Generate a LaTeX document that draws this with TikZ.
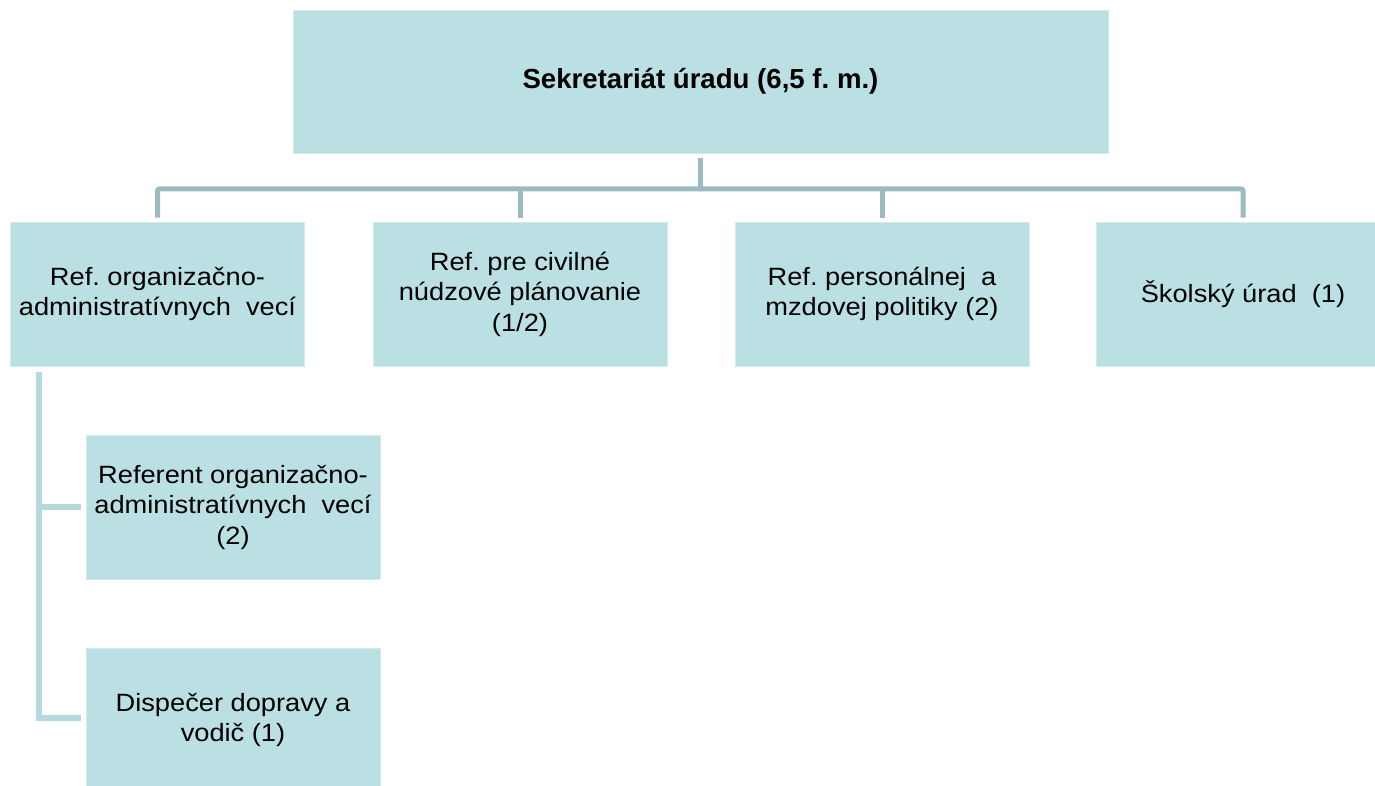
\documentclass[tikz,border=0pt]{standalone}
\usepackage{fontspec}
\setmainfont{Liberation Sans}
\newfontfamily\boxfont[FakeStretch=1.09]{Liberation Sans}
\usetikzlibrary{calc}
\definecolor{boxfill}{HTML}{BBE0E3}
\definecolor{boxedge}{HTML}{D2ECEE}
\definecolor{connA}{HTML}{9BBBBE}
\definecolor{connB}{HTML}{B5DADD}
\tikzset{
  orgbox/.style={fill=boxfill, draw=boxedge, line width=0.8pt, inner sep=0pt,
    minimum width=294pt, minimum height=144pt, align=center,
    font=\boxfont\fontsize{25}{30.5}\selectfont},
  topbox/.style={orgbox, minimum width=815pt, minimum height=143pt,
    font=\bfseries\fontsize{27.6}{32}\selectfont},
  connup/.style={draw=connA, line width=5pt},
  conndown/.style={draw=connB, line width=6pt}
}
\frenchspacing
\begin{document}
\begin{tikzpicture}[x=1pt,y=-1pt]
\useasboundingbox[fill=white] (0,0) rectangle (1375,786);
\begin{scope}
\clip (0,0) rectangle (1375,786);
\node[topbox] (top) at (700.5,81.5) {Sekretariát úradu (6,5 f. m.)};
\node[orgbox] (b1) at (157.5,294) {Ref. organizačno-\\administratívnych~~vecí};
\node[orgbox] (b2) at (520,294) {Ref. pre civilné\\núdzové plánovanie\\(1/2)};
\node[orgbox] (b3) at (882,294) {Ref. personálnej~~a\\mzdovej politiky (2)};
\node[orgbox] (b4) at (1243,294) {Školský úrad~~(1)};
\node[orgbox] (b5) at (233,507) {Referent organizačno-\\administratívnych~~vecí\\(2)};
\node[orgbox] (b6) at (233,720) {Dispečer dopravy a\\vodič (1)};
\coordinate (bus) at (700.5,189);
\coordinate (sp) at ($(b1.south west)+(29,6)$);
\draw[connup] ([yshift=-5pt]top.south) -- (bus);
\draw[connup, rounded corners=2pt] ([yshift=4pt]b1.north) -- (b1.north |- bus) -- (b4.north |- bus) -- ([yshift=4pt]b4.north);
\draw[connup] (b2.north |- bus) -- ([yshift=4pt]b2.north);
\draw[connup] (b3.north |- bus) -- ([yshift=4pt]b3.north);
\draw[conndown] (sp) |- ($(b6.west)+(-5,-2)$);
\draw[conndown] (sp |- b5.west) -- ($(b5.west)+(-5,0)$);
\end{scope}
\end{tikzpicture}
\end{document}
